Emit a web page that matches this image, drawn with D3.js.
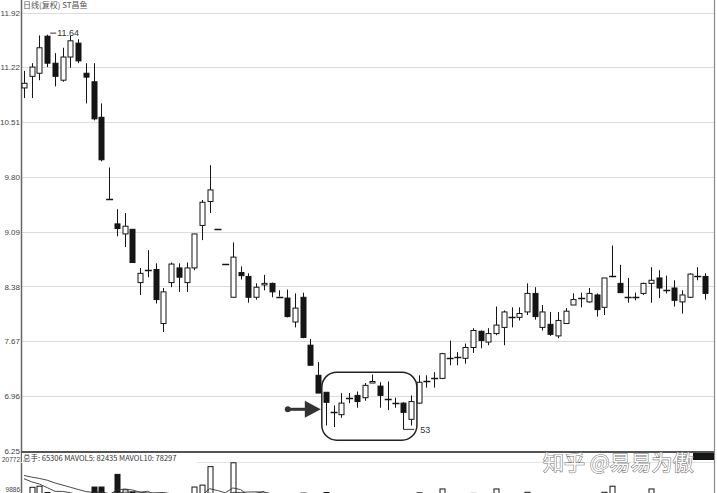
<!DOCTYPE html>
<html>
<head>
<meta charset="utf-8">
<script src="https://cdn.jsdelivr.net/npm/d3@7"></script>
<style>
  body { margin: 0; background: #fff; }
  svg { display: block; }
</style>
</head>
<body>
<div id="vis"></div>
<script>
// daily candles (price units)
var opens  = [10.95,11.10,11.14,11.62,11.27,11.05,11.35,11.53,11.14,11.03,
              10.57,9.52,9.19,9.06,9.12,8.43,8.59,8.60,7.90,8.43,
              8.62,8.43,8.62,9.17,9.48,9.13,8.67,8.24,8.56,8.51,
              8.24,8.40,8.42,8.25,8.23,7.92,8.24,7.62,7.23,7.01,
              6.75,6.72,6.93,6.97,6.94,7.13,7.09,6.92,6.87,6.87,
              6.66,6.87,7.16,7.19,7.19,7.46,7.47,7.45,7.59,7.80,
              7.66,7.77,7.85,7.99,7.98,8.05,8.29,7.85,7.89,7.74,
              7.90,8.14,8.23,8.18,8.27,8.11,8.52,8.42,8.25,8.25,
              8.29,8.42,8.49,8.34,8.36,8.18,8.24,8.51,8.51];
var closes = [11.01,11.22,11.47,11.27,11.10,11.35,11.56,11.30,11.09,10.55,
              10.02,9.51,9.13,9.16,8.69,8.55,8.60,8.21,8.31,8.67,
              8.50,8.62,9.06,9.47,9.63,9.13,8.67,8.76,8.52,8.24,
              8.37,8.42,8.31,8.25,7.99,8.10,7.72,7.36,7.00,6.88,
              6.75,6.87,6.93,6.89,7.10,7.15,6.97,6.92,6.87,6.75,
              6.89,7.14,7.16,7.19,7.51,7.46,7.47,7.59,7.81,7.68,
              7.77,7.88,8.05,7.99,8.03,8.29,7.99,8.05,7.76,7.94,
              8.06,8.21,8.23,8.29,8.08,8.49,8.52,8.30,8.25,8.25,
              8.42,8.46,8.36,8.34,8.20,8.27,8.54,8.51,8.29];
var highs  = [11.17,11.27,11.63,11.64,11.40,11.47,11.63,11.58,11.27,11.27,
              10.75,9.92,9.38,9.33,9.12,8.62,8.85,8.68,8.36,8.69,
              8.68,8.69,9.06,9.50,9.95,9.13,8.67,8.95,8.64,8.55,
              8.42,8.53,8.43,8.33,8.34,8.29,8.30,7.70,7.40,7.01,
              6.84,7.00,7.00,7.02,7.13,7.24,7.14,7.15,6.94,6.88,
              6.97,7.23,7.23,7.27,7.52,7.68,7.53,7.64,7.84,7.81,
              7.84,8.12,8.07,8.11,8.11,8.42,8.37,8.14,8.05,8.05,
              8.10,8.29,8.30,8.36,8.29,8.49,8.91,8.66,8.49,8.30,
              8.43,8.63,8.59,8.52,8.46,8.33,8.55,8.63,8.55];
var lows   = [10.82,10.82,11.05,11.22,10.97,11.03,11.21,11.27,10.75,10.53,
              10.00,9.51,9.03,8.89,8.69,8.27,8.50,8.16,7.79,8.37,
              8.31,8.31,8.59,8.98,9.33,9.13,8.67,8.24,8.47,8.17,
              8.21,8.33,8.24,8.25,7.98,7.85,7.71,7.36,7.00,6.58,
              6.56,6.68,6.87,6.81,6.90,7.13,6.81,6.78,6.81,6.53,
              6.58,6.86,7.07,7.07,7.18,7.36,7.36,7.38,7.52,7.58,
              7.62,7.75,7.62,7.85,7.94,8.01,7.95,7.81,7.74,7.71,
              7.90,8.14,8.11,8.17,7.99,8.01,8.50,8.30,8.17,8.20,
              8.27,8.17,8.23,8.29,8.12,8.03,8.23,8.46,8.21];
var volumes = [8000,10500,10900,8600,7200,7800,8200,6900,7500,10600,
               10600,3500,15200,9600,8800,6500,5200,7900,8300,6100,
               4800,5300,10600,11300,18000,1500,1200,19400,8200,7600,
               5400,4300,4800,3100,6400,5900,8400,5600,6800,8600,
               7300,6200,4100,4600,5800,4400,5200,4700,3600,5900,
               7800,8500,5400,6300,9900,7200,6100,6600,8300,5700,
               5200,9900,8200,5900,4800,8700,8100,6300,5500,6000,
               5800,6400,5100,5600,6900,8700,10900,7400,6200,4300,
               5500,9900,7100,4900,6200,5300,7800,5600,6500];
// days before the first candle, only used to start the volume averages
var earlierVolumes = [16500,15800,14900,17200,15600,16100,14800,15200,13900];

var priceTicks = [11.92,11.22,10.51,9.80,9.09,8.38,7.67,6.96,6.25];
var volTicks = [20772,9886];

var title = "日线(复权)  ST昌鱼";
var volTitle = "总手: 65306  MAVOL5: 82435  MAVOL10: 78297";
var watermark = "知乎 @易易为傲";

var w = 717, h = 493;
var axisX = 21, rightX = 714;
var priceTop = 13, priceBottom = 451;
var dark = "#151515";

var svg = d3.select("#vis").append("svg")
  .attr("width", w).attr("height", h)
  .style("font-family", "'Liberation Sans', Arial, sans-serif");

var n = opens.length;
var x = d3.scaleLinear().domain([0, n - 1]).range([24, 705]);
var y = d3.scaleLinear().domain([6.25, 11.92]).range([priceBottom, priceTop]);
var yv = d3.scaleLinear().domain([9886, 20772]).range([489, 459]);

var candles = d3.range(n).map(i => ({
  i: i, o: opens[i], c: closes[i], hi: highs[i], lo: lows[i], v: volumes[i]
}));

// grid lines
svg.append("g").selectAll("line").data(priceTicks.slice(0, -1)).enter()
  .append("line")
  .attr("x1", axisX).attr("x2", rightX)
  .attr("y1", d => Math.round(y(d)) + 0.5).attr("y2", d => Math.round(y(d)) + 0.5)
  .attr("stroke", "#dcdcdc").attr("stroke-width", 1);

// price axis labels
var yAxis = d3.axisLeft(y).tickValues(priceTicks).tickSize(0).tickPadding(1)
  .tickFormat(d3.format(".2f"));
var ya = svg.append("g").attr("transform", `translate(${axisX},0)`).call(yAxis);
ya.select(".domain").remove();
ya.selectAll("text").attr("font-size", 8).attr("fill", "#444")
  .attr("font-family", "'Liberation Sans', Arial, sans-serif");

// frame lines
svg.append("line").attr("x1", axisX + 0.5).attr("x2", axisX + 0.5).attr("y1", 0).attr("y2", h)
  .attr("stroke", "#666").attr("stroke-width", 1.5);
svg.append("line").attr("x1", rightX + 0.5).attr("x2", rightX + 0.5).attr("y1", 0).attr("y2", h)
  .attr("stroke", "#888").attr("stroke-width", 1.2);
svg.append("line").attr("x1", axisX).attr("x2", rightX).attr("y1", 452).attr("y2", 452)
  .attr("stroke", "#555").attr("stroke-width", 1.8);

svg.append("text").attr("x", 23).attr("y", 8).text(title)
  .attr("font-size", 8).attr("fill", "#555")
  .attr("font-family", "'Noto Sans CJK SC', sans-serif");

// candles
var cg = svg.append("g");
var half = 2.5;
cg.selectAll("line.wick").data(candles).enter().append("line")
  .attr("class", "wick")
  .attr("x1", d => Math.round(x(d.i)) + 0.5).attr("x2", d => Math.round(x(d.i)) + 0.5)
  .attr("y1", d => y(d.hi)).attr("y2", d => y(d.lo))
  .attr("stroke", dark).attr("stroke-width", 1);

cg.selectAll("rect.body").data(candles.filter(d => Math.abs(y(d.o) - y(d.c)) >= 1.5)).enter()
  .append("rect").attr("class", "body")
  .attr("x", d => Math.round(x(d.i)) + 0.5 - half)
  .attr("width", half * 2)
  .attr("y", d => y(Math.max(d.o, d.c)))
  .attr("height", d => Math.abs(y(d.o) - y(d.c)))
  .attr("fill", d => d.c >= d.o ? "#fff" : dark)
  .attr("stroke", dark).attr("stroke-width", 1);

cg.selectAll("line.cross").data(candles.filter(d => Math.abs(y(d.o) - y(d.c)) < 1.5)).enter()
  .append("line").attr("class", "cross")
  .attr("x1", d => x(d.i) - half - 0.5).attr("x2", d => x(d.i) + half + 1.5)
  .attr("y1", d => Math.round(y((d.o + d.c) / 2)) + 0.5)
  .attr("y2", d => Math.round(y((d.o + d.c) / 2)) + 0.5)
  .attr("stroke", dark).attr("stroke-width", 1.5);

// high / low marks
var hiIdx = d3.maxIndex(highs), loIdx = d3.minIndex(lows);
svg.append("line").attr("x1", x(hiIdx) + 3).attr("x2", x(hiIdx) + 9)
  .attr("y1", y(highs[hiIdx]) - 1.5).attr("y2", y(highs[hiIdx]) - 1.5)
  .attr("stroke", "#333");
svg.append("text").attr("x", x(hiIdx) + 10).attr("y", y(highs[hiIdx]) + 1)
  .text(d3.format(".2f")(highs[hiIdx])).attr("font-size", 9).attr("fill", "#333");
svg.append("line").attr("x1", x(loIdx)).attr("x2", x(loIdx) + 11)
  .attr("y1", y(lows[loIdx])).attr("y2", y(lows[loIdx]))
  .attr("stroke", "#333");
svg.append("text").attr("x", x(loIdx) + 17).attr("y", y(lows[loIdx]) + 4)
  .text("53").attr("font-size", 9).attr("fill", "#333");

// rounded box round the flat stretch, and the arrow
var boxFrom = 39, boxTo = 50;
svg.append("rect")
  .attr("x", x(boxFrom) - 4).attr("y", y(7.27))
  .attr("width", x(boxTo) - x(boxFrom) + 10)
  .attr("height", y(6.39) - y(7.27))
  .attr("rx", 15).attr("ry", 15)
  .attr("fill", "none").attr("stroke", "#222").attr("stroke-width", 1.5);
var arrowY = y(6.79), arrowEnd = x(boxFrom) - 5;
svg.append("circle").attr("cx", arrowEnd - 33).attr("cy", arrowY).attr("r", 3).attr("fill", "#333");
svg.append("line").attr("x1", arrowEnd - 33).attr("x2", arrowEnd - 14)
  .attr("y1", arrowY).attr("y2", arrowY).attr("stroke", "#333").attr("stroke-width", 3);
svg.append("path")
  .attr("d", `M${arrowEnd - 16},${arrowY - 8.5} L${arrowEnd},${arrowY} L${arrowEnd - 16},${arrowY + 8.5} Z`)
  .attr("fill", "#333");

// volume panel
var vg = svg.append("g");
vg.append("line").attr("x1", axisX).attr("x2", rightX).attr("y1", 462.5).attr("y2", 462.5)
  .attr("stroke", "#e4e4e4");
vg.selectAll("rect.vol").data(candles).enter().append("rect").attr("class", "vol")
  .attr("x", d => Math.round(x(d.i)) + 0.5 - half).attr("width", half * 2)
  .attr("y", d => yv(d.v)).attr("height", d => Math.max(0, h + 5 - yv(d.v)))
  .attr("fill", d => d.c >= d.o ? "#fff" : dark)
  .attr("stroke", dark).attr("stroke-width", 1);

var allVol = earlierVolumes.concat(volumes);
function mavol(k) {
  return volumes.map((v, i) => d3.mean(allVol.slice(i + earlierVolumes.length - k + 1, i + earlierVolumes.length + 1)));
}
var maLine = d3.line().x((d, i) => x(i)).y(d => yv(d));
[5, 10].forEach(k => {
  vg.append("path").datum(mavol(k)).attr("d", maLine)
    .attr("fill", "none").attr("stroke", "#333").attr("stroke-width", 0.9);
});

var vAxis = d3.axisLeft(yv).tickValues(volTicks).tickSize(0).tickPadding(1)
  .tickFormat(d3.format("d"));
var va = svg.append("g").attr("transform", `translate(${axisX},0)`).call(vAxis);
va.select(".domain").remove();
va.selectAll("text").attr("font-size", 6.5).attr("fill", "#444")
  .attr("font-family", "'Liberation Sans', Arial, sans-serif");
svg.append("rect").attr("x", axisX + 1).attr("y", 453).attr("width", 175).attr("height", 10).attr("fill", "#fff");
svg.append("text").attr("x", 23).attr("y", 461).text(volTitle)
  .attr("font-size", 7.5).attr("fill", "#333")
  .attr("font-family", "'Noto Sans CJK SC', sans-serif");

svg.append("rect").attr("x", 693).attr("y", 453).attr("width", 21).attr("height", 7).attr("fill", dark);

// watermark
svg.append("text").attr("x", 543).attr("y", 470).text(watermark)
  .attr("font-size", 21).attr("fill", "#fbfbfb")
  .attr("stroke", "#777").attr("stroke-width", 1.1)
  .attr("paint-order", "stroke")
  .attr("font-family", "'Noto Sans CJK SC', sans-serif");
</script>
</body>
</html>
